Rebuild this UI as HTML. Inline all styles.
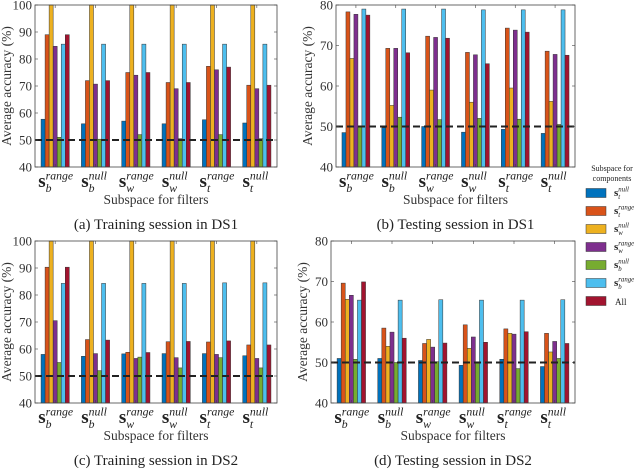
<!DOCTYPE html>
<html><head><meta charset="utf-8"><style>
body{margin:0;background:#fff;width:640px;height:469px;overflow:hidden}
svg{font-family:"Liberation Serif",serif}
</style></head><body>
<svg id="fig" width="640" height="469" viewBox="0 0 640 469" xmlns="http://www.w3.org/2000/svg"></svg>
<script>
const groups=["b|range","b|null","w|range","w|null","t|range","t|null"];
const seriesNames=["t|null","t|range","w|null","w|range","b|null","b|range","All"];
const colors=["#0072BD","#D95319","#EDB120","#7E2F8E","#77AC30","#4DBEEE","#A2142F"];
const dataA=[[57.7,89,100,84.7,51,85.5,89],[56,72,100,70.7,50.3,85.5,72],[57,75,100,74,52,85.5,75],[56,71.3,100,69,50.5,85.5,71.3],[57.5,77.3,100,76,52,85.5,77],[56.3,70.3,100,69,50.5,85.5,70.3]];
const dataB=[[48.5,78.3,66.8,77.7,50,79,77.5],[49.7,69.3,55.2,69.3,52.3,79,68.2],[50,72.3,59,72,51.7,79,71.8],[48.6,68.3,56,67.7,52,78.8,65.5],[49.3,74.3,59.5,73.8,51.8,78.8,73.3],[48.3,68.6,56.2,67.8,50.5,78.8,67.6]];
const dataC=[[58,90.3,100,70.5,55,84.3,90.3],[57.3,63.5,100,58.3,52,84.3,63.3],[58.2,58.8,100,56.5,57,84.3,58.7],[58.3,62.7,100,56.8,53,84.3,62.8],[58.3,62.6,100,58,56.8,84.5,63],[57.5,61.5,100,56.5,53,84.5,61.5]];
const dataD=[[51,69.6,65.6,66.6,50.8,65.4,69.9],[51,58.5,54,57.5,50,65.4,56],[50.5,54.7,55.7,53.8,50.2,65.5,54.8],[49.3,59.3,53.5,56.3,50,65.4,55],[50.8,58.3,57.2,57,48.5,65.4,57.6],[49,57.2,52.6,55.2,51,65.5,54.7]];
const ticksA=[40,50,60,70,80,90,100];
const ticksB=[40,50,60,70,80];
const chance=50;
const NS="http://www.w3.org/2000/svg";
const svg=document.getElementById('fig');
function el(tag,attrs,parent){const e=document.createElementNS(NS,tag);for(const k in attrs)e.setAttribute(k,attrs[k]);(parent||svg).appendChild(e);return e;}
function mathLabel(parent,x,y,sub,sup,size,anchorStart){
  const g=el('g',{},parent);
  const sw=size*0.39, ss=size*0.62, supw=sup.length*ss*0.45;
  const left=anchorStart?x:x-(sw+supw)/2;
  const s=el('text',{x:left,y:y,'font-size':size,'font-weight':'bold',fill:'#222'},g);s.textContent='s';
  const p=el('text',{x:left+sw,y:y-size*0.4,'font-size':ss,'font-style':'italic',fill:'#222'},g);p.textContent=sup;
  const b=el('text',{x:left+sw,y:y+size*0.25,'font-size':ss,'font-style':'italic',fill:'#222'},g);b.textContent=sub;
  return g;
}
function panel(name,x0,x1,y0,y1,ymin,ymax,ticks,data,caption){
  const g=el('g',{});
  
  
  const ys=v=>y1-(v-ymin)/(ymax-ymin)*(y1-y0);
  const gw=(x1-x0)/groups.length;
  const bw=gw*0.7/seriesNames.length;
  data.forEach((row,gi)=>{
    const cx=x0+gw*(gi+0.5);
    row.forEach((v,si)=>{
      const bx=cx-gw*0.35+si*bw;
      const r=el('rect',{x:bx,y:ys(v),width:bw,height:y1-ys(v),fill:colors[si],stroke:'#333','stroke-width':0.5},g);
      
      
    });
    el('line',{x1:cx,x2:cx,y1:y1,y2:y1-3,stroke:'#444','stroke-width':0.6},g);
    el('line',{x1:cx,x2:cx,y1:y0,y2:y0+3,stroke:'#444','stroke-width':0.6},g);
    const parts=groups[gi].split('|');
    const lb=mathLabel(g,cx,y1+20,parts[0],parts[1],19,false);
    
    
  });
  const dl=el('line',{x1:x0,x2:x1,y1:ys(chance),y2:ys(chance),stroke:'#222','stroke-width':2,'stroke-dasharray':'7,4'},g);
  
  
  ticks.forEach(t=>{
    el('line',{x1:x0,x2:x0+3,y1:ys(t),y2:ys(t),stroke:'#444','stroke-width':0.6},g);
    el('line',{x1:x1,x2:x1-3,y1:ys(t),y2:ys(t),stroke:'#444','stroke-width':0.6},g);
    const tl=el('text',{x:x0-3,y:ys(t)+4.5,'font-size':13,'text-anchor':'end',fill:'#333'},g);
    tl.textContent=t;
    
    
  });
  const fr=el('rect',{x:x0,y:y0,width:x1-x0,height:y1-y0,fill:'none',stroke:'#444','stroke-width':0.8},g);
  
  
  const yl=el('text',{x:0,y:0,'font-size':13.5,'text-anchor':'middle',fill:'#333',transform:`translate(${x0-24},${(y0+y1)/2}) rotate(-90)`},g);
  yl.textContent='Average accuracy (%)';
  
  
  const xl=el('text',{x:(x0+x1)/2,y:y1+37,'font-size':13.5,'text-anchor':'middle',fill:'#333'},g);
  xl.textContent='Subspace for filters';
  
  
  const cp=el('text',{x:(x0+x1)/2,y:y1+62,'font-size':15,'text-anchor':'middle',fill:'#222'},g);
  cp.textContent=caption;
  
  
}
panel('panel-a',35,277,5,167,40,100,ticksA,dataA,'(a) Training session in DS1');
panel('panel-b',336,575,5,167,40,80,ticksB,dataB,'(b) Testing session in DS1');
panel('panel-c',35,277,241,403,40,100,ticksA,dataC,'(c) Training session in DS2');
panel('panel-d',331,575,241,403,40,80,ticksB,dataD,'(d) Testing session in DS2');
const lg=el('g',{});


const lt1=el('text',{x:612,y:171,'font-size':8,'text-anchor':'middle',fill:'#222'},lg);lt1.textContent='Subspace for';
const lt2=el('text',{x:612,y:181,'font-size':8,'text-anchor':'middle',fill:'#222'},lg);lt2.textContent='components';
seriesNames.forEach((n,i)=>{
  const y=193+i*18;
  const sw=el('rect',{x:586,y:y-4.5,width:20,height:9,fill:colors[i],stroke:'#333','stroke-width':0.5},lg);
  
  
  let t;
  if(n==='All'){t=el('text',{x:615,y:y+4,'font-size':9,fill:'#222'},lg);t.textContent='All';}
  else{const p=n.split('|');t=mathLabel(lg,614,y+3,p[0],p[1],11,true);}
  
  
});
</script>
</body></html>
